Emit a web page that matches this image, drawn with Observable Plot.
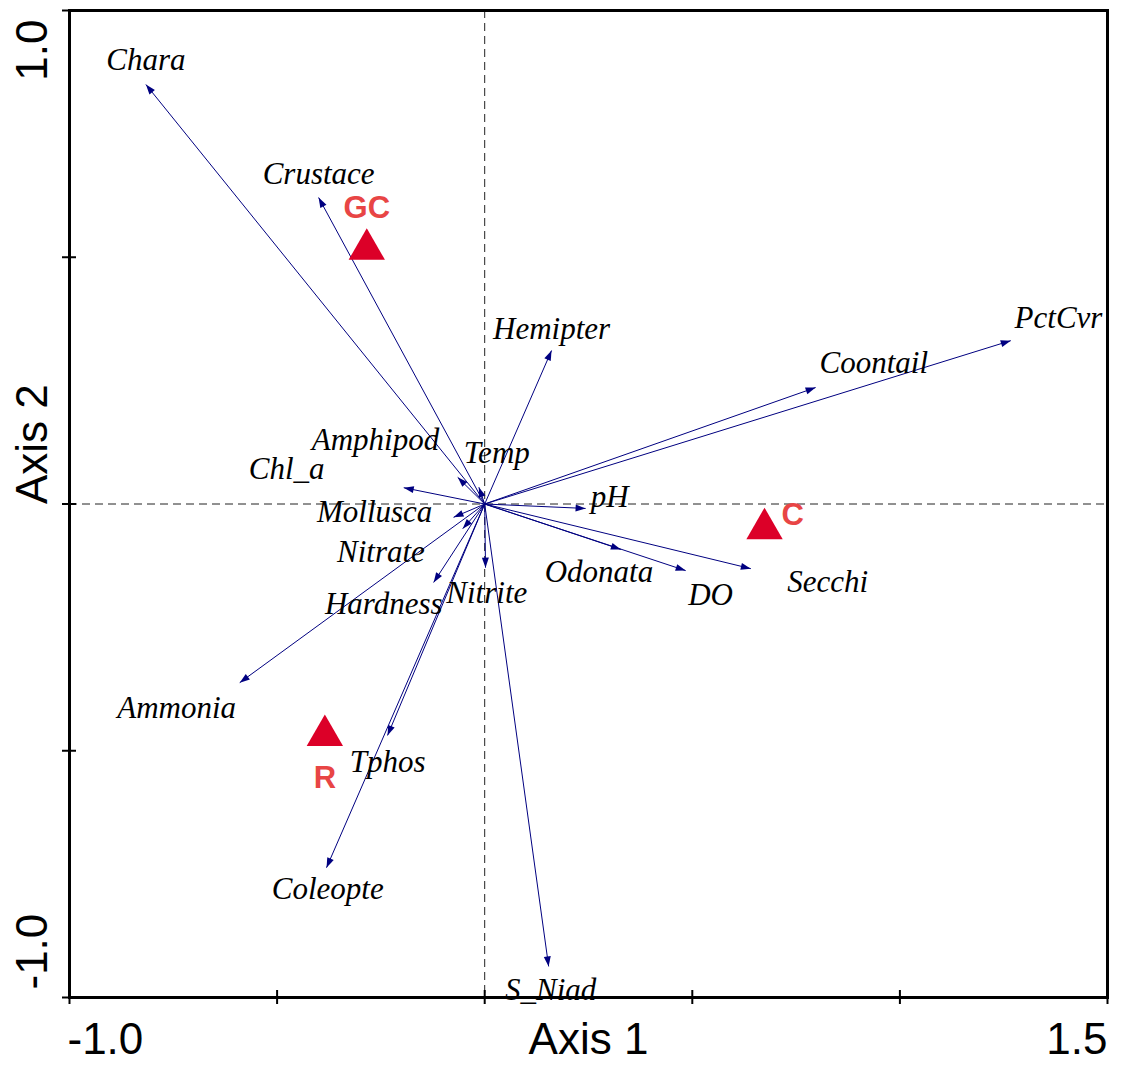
<!DOCTYPE html>
<html><head><meta charset="utf-8">
<script src="https://cdn.jsdelivr.net/npm/d3@7"></script>
<script src="https://cdn.jsdelivr.net/npm/@observablehq/plot@0.6"></script>
<style>body{margin:0;background:#fff}</style>
</head><body><div id="chart"></div>
<script>
// Biplot vectors (Axis 1, Axis 2 scores)
const variables = ["Chara","Crustace","Hemipter","PctCvr","Coontail","Amphipod","Temp","Chl_a","pH","Mollusca","Nitrate","Hardness","Nitrite","Odonata","DO","Secchi","Ammonia","Tphos","Coleopte","S_Niad"];
const arrowX = [-0.816,-0.400,0.161,1.267,0.797,-0.065,-0.014,-0.195,0.243,-0.075,-0.053,-0.123,0.002,0.328,0.484,0.641,-0.590,-0.234,-0.381,0.154];
const arrowY = [0.850,0.621,0.311,0.331,0.236,0.054,0.034,0.033,-0.009,-0.027,-0.050,-0.159,-0.129,-0.092,-0.135,-0.131,-0.362,-0.469,-0.737,-0.937];
// label anchor positions (data units)
const labelX = [-0.816,-0.400,0.161,1.382,0.937,-0.263,0.029,-0.477,0.301,-0.265,-0.250,-0.243,0.005,0.275,0.544,0.826,-0.742,-0.234,-0.378,0.159];
const labelY = [0.899,0.668,0.354,0.376,0.285,0.129,0.104,0.070,0.015,-0.017,-0.098,-0.202,-0.181,-0.137,-0.185,-0.159,-0.414,-0.522,-0.781,-0.984];
// Sites
const sites = ["GC","C","R"];
const siteX = [-0.284,0.674,-0.385];
const siteY = [0.516,-0.050,-0.469];
const siteLabelX = [-0.284,0.742,-0.385];
const siteLabelY = [0.600,-0.023,-0.556];
// Axes
const xTicks = [-1,-0.5,0,0.5,1,1.5];
const yTicks = [-1,-0.5,0,0.5,1];
const xTickLabels = ["-1.0","1.5"];
const xTickLabelValues = [-1,1.5];
const yTickLabels = ["-1.0","1.0"];
const yTickLabelValues = [-1,1];
const xTitle = "Axis 1";
const yTitle = "Axis 2";

const arrowColor = "#000080";
const idx = d3.range(variables.length);
const sidx = d3.range(sites.length);
const sans = "'Liberation Sans', Arial, sans-serif";
const serif = "'Liberation Serif', 'Times New Roman', serif";
const tickFont = {fontFamily: sans, fontSize: 44, fill: "black", lineAnchor: "middle"};

const chart = Plot.plot({
  width: 1122,
  height: 1066,
  marginLeft: 69,
  marginRight: 15,
  marginTop: 10,
  marginBottom: 69,
  x: {domain: [-1, 1.5]},
  y: {domain: [-1, 1]},
  style: {background: "white"},
  marks: [
    Plot.ruleX([0], {stroke: "#222", strokeDasharray: "8,5", strokeWidth: 1}),
    Plot.ruleY([0], {stroke: "#222", strokeDasharray: "8,5", strokeWidth: 1}),
    Plot.axisX(xTicks, {tickSize: 14, dy: -7, tickFormat: () => "", label: null, strokeWidth: 2, stroke: "black"}),
    Plot.axisY(yTicks, {tickSize: 14, dx: 7, tickFormat: () => "", label: null, strokeWidth: 2, stroke: "black"}),
    Plot.frame({stroke: "black", strokeWidth: 3}),
    Plot.link(idx, {x1: 0, y1: 0, x2: i => arrowX[i], y2: i => arrowY[i], stroke: arrowColor, strokeWidth: 1, markerEnd: "arrow"}),
    Plot.text(idx, {x: i => labelX[i], y: i => labelY[i], text: i => variables[i], fontFamily: serif, fontStyle: "italic", fontSize: 31, fill: "black", lineAnchor: "middle"}),
    Plot.dot(sidx, {x: i => siteX[i], y: i => siteY[i], symbol: "triangle", r: 13.5, fill: "#dc0028", stroke: "none"}),
    Plot.text(sidx, {x: i => siteLabelX[i], y: i => siteLabelY[i], text: i => sites[i], fontFamily: sans, fontWeight: "bold", fontSize: 31, fill: "#e84545", lineAnchor: "middle"}),
    // tick labels
    Plot.text([0], {x: () => xTickLabelValues[0], text: () => xTickLabels[0], frameAnchor: "bottom", dy: 42, dx: -2, textAnchor: "start", ...tickFont}),
    Plot.text([1], {x: () => xTickLabelValues[1], text: () => xTickLabels[1], frameAnchor: "bottom", dy: 42, textAnchor: "end", ...tickFont}),
    Plot.text([xTitle], {frameAnchor: "bottom", dy: 42, ...tickFont}),
    Plot.text([0], {y: () => yTickLabelValues[0], text: () => yTickLabels[0], frameAnchor: "left", dx: -37, dy: -8, rotate: -90, textAnchor: "start", ...tickFont}),
    Plot.text([1], {y: () => yTickLabelValues[1], text: () => yTickLabels[1], frameAnchor: "left", dx: -37, dy: 9, rotate: -90, textAnchor: "end", ...tickFont}),
    Plot.text([yTitle], {frameAnchor: "left", dx: -37, rotate: -90, ...tickFont})
  ]
});

// filled arrowheads
chart.querySelectorAll("marker").forEach(m => {
  const c = m.getAttribute("stroke") || arrowColor;
  m.setAttribute("viewBox", "-11 -5 12 10");
  m.setAttribute("markerWidth", 12);
  m.setAttribute("markerHeight", 10);
  m.setAttribute("fill", c);
  m.setAttribute("stroke", "none");
  const p = m.querySelector("path");
  if (p) p.setAttribute("d", "M-10,-3.5L0,0L-10,3.5Z");
});

document.getElementById("chart").appendChild(chart);
</script>
</body></html>
